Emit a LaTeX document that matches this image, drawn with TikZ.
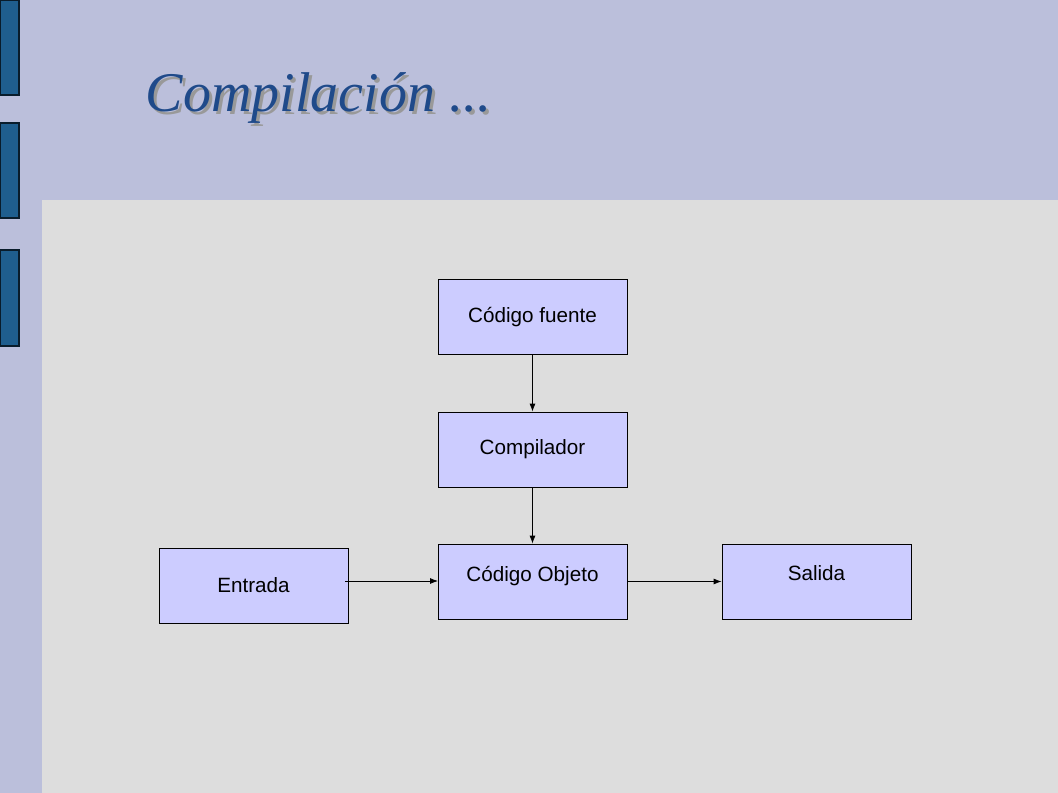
\documentclass[tikz,border=0pt]{standalone}
\usepackage{fontspec}
\setmainfont{Liberation Sans}
\newfontfamily\titlefont{Liberation Serif}
\usetikzlibrary{arrows.meta}
\definecolor{band}{HTML}{BBBFDB}
\definecolor{main}{HTML}{DDDDDD}
\definecolor{bar}{HTML}{1F5E8E}
\definecolor{boxfill}{HTML}{CCCCFF}
\definecolor{ttl}{HTML}{1F4A8A}
\begin{document}
\begin{tikzpicture}[x=0.75pt,y=-0.75pt,
  blk/.style={draw=black,fill=boxfill,line width=0.6pt,minimum width=141.75pt,minimum height=56.25pt,inner sep=0pt,font=\fontsize{15.5}{18}\selectfont},
  conn/.style={-{Latex[length=6pt,width=4.5pt]},line width=0.6pt}]
\useasboundingbox (0,0) rectangle (1058,793);
\fill[band] (0,0) rectangle (1058,793);
\fill[main] (42,200) rectangle (1058,793);
\foreach \a/\b in {0/95,123/218,250/346}
  \filldraw[fill=bar,draw=black!70!bar,line width=0.8pt] (0,\a) rectangle (19,\b);
\node[anchor=base west,text=black!40,font=\titlefont\itshape\fontsize{42}{50}\selectfont] (tshadow) at (144,114) {Compilación ...};
\node[anchor=base west,text=ttl,font=\titlefont\itshape\fontsize{42}{50}\selectfont] (title) at (141,111) {Compilación ...};
\node[blk] (fuente) at (532.5,317) {Código fuente};
\node[blk] (comp) at (532.5,449.5) {Compilador};
\node[blk,text depth=12pt] (obj) at (532.5,581.5) {Código Objeto};
\node[blk] (ent) at (253.5,585.5) {Entrada};
\node[blk,text depth=12pt] (sal) at (816.5,581.5) {Salida};
\draw[conn] (fuente) -- (comp);
\draw[conn] (comp) -- (obj);
\coordinate (e1) at (345,581);
\coordinate (e2) at (438,581);
\draw[conn] (e1) -- (e2);
\draw[conn] (obj.east) -- (sal.west);
\end{tikzpicture}
\end{document}
